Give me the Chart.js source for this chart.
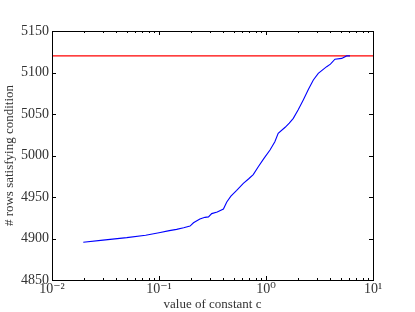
<!DOCTYPE html>
<html>
<head>
<meta charset="utf-8">
<script src="https://cdn.jsdelivr.net/npm/chart.js@4"></script>
<style>
  html, body { margin: 0; padding: 0; background: #fff; }
  #wrap { width: 415px; height: 312px; }
</style>
</head>
<body>
<div id="wrap"><canvas id="grafica" width="415" height="312"></canvas></div>
<script>
// valores
const valoresC = [0.0196, 0.03, 0.05, 0.075, 0.1, 0.125, 0.146, 0.17, 0.195, 0.21, 0.241, 0.269, 0.29, 0.311, 0.35, 0.40, 0.43, 0.47, 0.532, 0.614, 0.69, 0.76, 0.847, 0.95, 1.09, 1.21, 1.30, 1.51, 1.65, 1.80, 2.0, 2.23, 2.5, 2.77, 3.08, 3.69, 4.0, 4.41, 5.1, 5.67, 6.1];
const filas = [4895.5, 4898, 4901, 4904, 4907, 4909.5, 4911, 4913, 4915, 4919, 4923.5, 4925.5, 4926, 4930, 4932, 4935.5, 4944, 4951, 4958, 4966.5, 4972, 4977, 4986.5, 4996, 5006.6, 5016.6, 5026.7, 5034, 5039, 5044.8, 5055, 5066.9, 5080, 5091, 5099, 5107, 5110, 5116, 5117, 5120, 5120];
const limiteC = [0.01, 10];
const limiteFilas = [5120, 5120];
const ticksX = [0.01, 0.1, 1, 10];
const etiquetasX = ['10⁻²', '10⁻¹', '10⁰', '10¹'];
const ticksY = [4850, 4900, 4950, 5000, 5050, 5100, 5150];

const fuente = '"Liberation Serif", "DejaVu Serif", serif';

// marco y marcas hacia dentro, al estilo matplotlib
const marcoPlugin = {
  id: 'marco',
  afterDatasetsDraw(chart) {
    const { ctx, chartArea: a, scales: { x, y } } = chart;
    ctx.save();
    ctx.strokeStyle = '#000';
    ctx.lineWidth = 1;
    ctx.beginPath();
    // marcas de y a izquierda y derecha
    ticksY.forEach(v => {
      const py = Math.round(y.getPixelForValue(v)) + 0.5;
      ctx.moveTo(a.left, py); ctx.lineTo(a.left + 4, py);
      ctx.moveTo(a.right, py); ctx.lineTo(a.right - 4, py);
    });
    // marcas de x, mayores y menores
    for (let e = -2; e <= 1; e++) {
      for (let m = 1; m <= 9; m++) {
        const v = m * Math.pow(10, e);
        if (v > 10) break;
        const px = Math.round(x.getPixelForValue(v)) + 0.5;
        const largo = m === 1 ? 4 : 2;
        ctx.moveTo(px, a.bottom); ctx.lineTo(px, a.bottom - largo);
        ctx.moveTo(px, a.top); ctx.lineTo(px, a.top + largo);
      }
    }
    ctx.stroke();
    ctx.strokeRect(Math.round(a.left) + 0.5, Math.round(a.top) + 0.5,
      Math.round(a.right - a.left), Math.round(a.bottom - a.top));
    ctx.restore();
  }
};

function crearGrafica() {
  const ctx = document.getElementById('grafica').getContext('2d');
  new Chart(ctx, {
    type: 'line',
    data: {
      datasets: [
        {
          label: 'filas',
          data: valoresC.map((c, i) => ({ x: c, y: filas[i] })),
          borderColor: '#0000ff',
          borderWidth: 1.1,
          pointRadius: 0,
          tension: 0
        },
        {
          label: 'límite',
          data: limiteC.map((c, i) => ({ x: c, y: limiteFilas[i] })),
          borderColor: '#ff0000',
          borderWidth: 1.1,
          pointRadius: 0
        }
      ]
    },
    options: {
      responsive: false,
      animation: false,
      layout: { padding: { left: 0, top: 31, right: 42, bottom: 0 } },
      plugins: { legend: { display: false }, tooltip: { enabled: false } },
      scales: {
        x: {
          type: 'logarithmic',
          min: 0.01,
          max: 10,
          afterBuildTicks: s => { s.ticks = ticksX.map(v => ({ value: v })); },
          afterFit: s => { s.height = 32; },
          grid: { display: false, drawTicks: false },
          border: { display: false },
          ticks: {
            autoSkip: false,
            maxRotation: 0,
            padding: 1,
            color: '#333',
            font: { family: fuente, size: 14 },
            callback: v => etiquetasX[ticksX.indexOf(v)] || ''
          },
          title: {
            display: true,
            text: 'value of constant c',
            color: '#333',
            padding: 0,
            font: { family: fuente, size: 13 }
          }
        },
        y: {
          min: 4850,
          max: 5150,
          afterBuildTicks: s => { s.ticks = ticksY.map(v => ({ value: v })); },
          afterFit: s => { s.width = 52; },
          grid: { display: false, drawTicks: false },
          border: { display: false },
          ticks: {
            padding: 3,
            color: '#333',
            font: { family: fuente, size: 14 },
            callback: v => String(v)
          },
          title: {
            display: true,
            text: '# rows satisfying condition',
            color: '#333',
            padding: { top: 2, bottom: 0 },
            font: { family: fuente, size: 13 }
          }
        }
      }
    },
    plugins: [marcoPlugin]
  });
}

document.addEventListener('DOMContentLoaded', crearGrafica);
</script>
</body>
</html>
